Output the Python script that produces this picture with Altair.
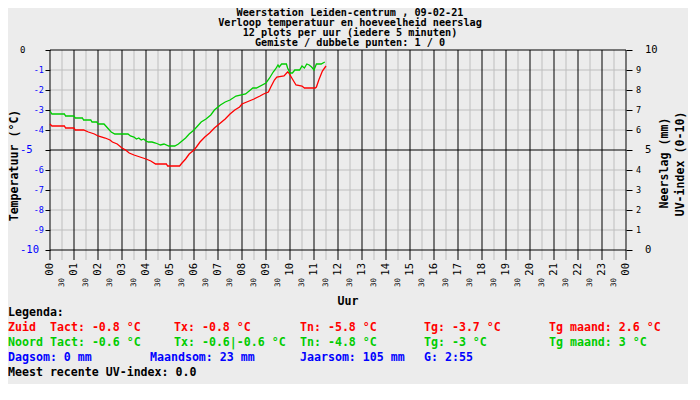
import altair as alt
import pandas as pd

FONT = "DejaVu Sans Mono"
RED = "#ff0000"
GREEN = "#00cc00"
BLUE = "#0000ff"
BG = "#ececec"
GRID = "#bebebe"

# ---------------- data ----------------
title_lines = [
    "Weerstation Leiden-centrum , 09-02-21",
    "Verloop temperatuur en hoeveelheid neerslag",
    "12 plots per uur (iedere 5 minuten)",
    "Gemiste / dubbele punten: 1 / 0",
]

hours = list(range(25))
hour_labels = ["00", "01", "02", "03", "04", "05", "06", "07", "08", "09", "10", "11",
               "12", "13", "14", "15", "16", "17", "18", "19", "20", "21", "22", "23", "00"]
half_hours = [h + 0.5 for h in range(24)]
half_label = "30"

temp_ticks = list(range(-10, 1))
temp_small = [-1, -2, -3, -4, -6, -7, -8, -9]
temp_large = [-5, -10]
temp_zero = [0]
rain_ticks = list(range(0, 11))
rain_small = [1, 2, 3, 4, 6, 7, 8, 9]
rain_large = [0, 5, 10]

# Noord (green)
noord_h = [0.0, 0.08, 0.6, 0.65, 1.0, 1.05, 1.35, 1.4, 1.7, 1.75, 1.95, 2.0, 2.25, 2.4,
           2.55, 2.7, 3.25, 3.35, 3.5, 3.6, 3.7, 3.8, 3.9, 4.0, 4.1, 4.25, 4.4, 4.5, 4.6,
           4.75, 4.95, 5.2, 5.35, 5.5, 5.65, 5.8, 6.0, 6.15, 6.3, 6.5, 6.7, 6.85, 7.1,
           7.3, 7.5, 7.75, 8.15, 8.3, 8.45, 8.6, 9.0, 9.15, 9.3, 9.4, 9.5, 9.55, 9.65,
           9.85, 9.9, 10.0, 10.1, 10.2, 10.4, 10.5, 10.6, 10.7, 10.8, 10.9, 11.0, 11.1,
           11.3, 11.45]
noord_t = [-3.05, -3.2, -3.2, -3.3, -3.3, -3.4, -3.4, -3.5, -3.5, -3.6, -3.6, -3.7, -3.7, -3.9,
           -4.1, -4.2, -4.2, -4.3, -4.35, -4.45, -4.4, -4.5, -4.45, -4.55, -4.6, -4.6, -4.65, -4.7, -4.75,
           -4.7, -4.8, -4.8, -4.7, -4.55, -4.4, -4.2, -4.0, -3.8, -3.6, -3.45, -3.25, -3.0, -2.75,
           -2.6, -2.5, -2.3, -2.2, -2.05, -1.9, -1.9, -1.65, -1.4, -1.1, -0.95, -0.75, -0.85, -0.7,
           -0.7, -0.9, -1.15, -1.15, -1.0, -1.0, -0.8, -0.9, -0.7, -0.75, -0.85, -1.0, -0.7,
           -0.7, -0.6]

# Zuid (red)
zuid_h = [0.0, 0.08, 0.6, 0.65, 1.0, 1.05, 1.4, 1.6, 1.85, 2.0, 2.3, 2.5, 2.6, 2.8, 3.0,
          3.15, 3.3, 3.5, 3.75, 4.0, 4.2, 4.4, 4.85, 4.9, 5.4, 5.5, 5.65, 5.8, 6.0, 6.1,
          6.25, 6.45, 6.65, 6.85, 7.1, 7.3, 7.5, 7.7, 7.9, 8.0, 8.3, 8.5, 8.75, 8.9, 9.1,
          9.2, 9.35, 9.45, 9.75, 9.9, 9.95, 10.1, 10.25, 10.5, 10.6, 11.05, 11.1, 11.2,
          11.35, 11.5]
zuid_t = [-3.7, -3.8, -3.8, -3.9, -3.9, -4.0, -4.0, -4.1, -4.2, -4.3, -4.4, -4.5, -4.6, -4.7, -4.9,
          -5.0, -5.15, -5.25, -5.35, -5.45, -5.55, -5.7, -5.7, -5.8, -5.8, -5.65, -5.45, -5.2, -5.0, -4.85,
          -4.6, -4.35, -4.15, -3.9, -3.65, -3.45, -3.2, -3.0, -2.85, -2.7, -2.55, -2.45, -2.3, -2.2, -2.1,
          -1.85, -1.5, -1.35, -1.3, -1.1, -1.15, -1.45, -1.75, -1.8, -1.9, -1.9, -1.85, -1.5,
          -1.05, -0.8]

legend_head = "Legenda:"
legend_zuid = ["Zuid", "Tact: -0.8 °C", "Tx: -0.8 °C", "Tn: -5.8 °C", "Tg: -3.7 °C", "Tg maand: 2.6 °C"]
legend_noord = ["Noord", "Tact: -0.6 °C", "Tx: -0.6|-0.6 °C", "Tn: -4.8 °C", "Tg: -3 °C", "Tg maand: 3 °C"]
legend_regen = ["Dagsom: 0 mm", "Maandsom: 23 mm", "Jaarsom: 105 mm", "G: 2:55"]
legend_uv = "Meest recente UV-index: 0.0"

y_title = "Temperatuur (°C)"
x_title = "Uur"
right_titles = ["Neerslag (mm)", "UV-index (0-10)"]

# ---------------- layout ----------------
W, H = 576, 200
col_x = [-42, 0, 124, 250, 374, 499]
regen_x = [-42, 100, 250, 374]
row_y = [263, 278, 293, 308, 323]
title_y = [-37, -27, -17, -7]

xs = alt.Scale(domain=[0, 24], nice=False, zero=False)
ts = alt.Scale(domain=[-10, 0], nice=False, zero=False)
rs = alt.Scale(domain=[0, 10], nice=False, zero=False)

X = alt.X("h:Q", scale=xs, axis=None)


def text_at(s, x, y, color="black", size=11.6, weight="bold", **kw):
    return alt.Chart(pd.DataFrame({"t": [s]})).mark_text(
        font=FONT, fontSize=size, fontWeight=weight, color=color,
        baseline="middle", **kw
    ).encode(x=alt.value(x), y=alt.value(y), text="t:N")


layers = []

# grid
layers.append(alt.Chart(pd.DataFrame({"v": rain_small})).mark_rule(color=GRID, strokeWidth=1).encode(
    y=alt.Y("v:Q", scale=rs, axis=None), x=alt.value(0), x2=alt.value(W)))
layers.append(alt.Chart(pd.DataFrame({"h": half_hours})).mark_rule(color=GRID, strokeWidth=1).encode(
    x=X, y=alt.value(0), y2=alt.value(210)))
layers.append(alt.Chart(pd.DataFrame({"v": rain_large})).mark_rule(color="black", strokeWidth=1).encode(
    y=alt.Y("v:Q", scale=rs, axis=alt.Axis(orient="right", values=rain_ticks, labels=False, ticks=True,
                                          tickSize=6, tickColor="black", tickWidth=1, domain=False,
                                          grid=False, title=None)),
    x=alt.value(0), x2=alt.value(W)))
layers.append(alt.Chart(pd.DataFrame({"h": hours})).mark_rule(color="black", strokeWidth=1).encode(
    x=X, y=alt.value(0), y2=alt.value(210)))

# lines
df = pd.concat([
    pd.DataFrame({"h": zuid_h, "temp": zuid_t, "station": "Zuid"}),
    pd.DataFrame({"h": noord_h, "temp": noord_t, "station": "Noord"}),
])
layers.append(alt.Chart(df).mark_line(strokeWidth=1.3, interpolate="linear").encode(
    x=X,
    y=alt.Y("temp:Q", scale=ts, axis=alt.Axis(
        orient="left", values=temp_ticks, labels=False, ticks=True, tickSize=5, tickColor="black",
        tickWidth=1, domain=False, grid=False, title=y_title, titleFont=FONT, titleFontSize=11.6,
        titleFontWeight="bold", titleColor="black", titleAngle=270, titleX=-36, titleY=115,
        titleAlign="center", titleBaseline="middle")),
    color=alt.Color("station:N", scale=alt.Scale(domain=["Zuid", "Noord"], range=[RED, GREEN]), legend=None),
    detail="station:N",
))

# x tick labels
layers.append(alt.Chart(pd.DataFrame({"h": hours, "t": hour_labels})).mark_text(
    font=FONT, fontSize=10.5, angle=270, align="right", baseline="middle", color="black").encode(
    x=X, y=alt.value(213), text="t:N"))
layers.append(alt.Chart(pd.DataFrame({"h": half_hours, "t": [half_label] * len(half_hours)})).mark_text(
    font=FONT, fontSize=7.5, angle=270, align="right", baseline="middle", color="black").encode(
    x=X, y=alt.value(228), text="t:N"))

# y tick labels (left)
layers.append(alt.Chart(pd.DataFrame({"v": temp_small, "t": [str(v) for v in temp_small]})).mark_text(
    font=FONT, fontSize=8.5, align="right", baseline="middle", color=BLUE).encode(
    y=alt.Y("v:Q", scale=ts, axis=None), x=alt.value(-6), text="t:N"))
layers.append(alt.Chart(pd.DataFrame({"v": temp_large, "t": [str(v) for v in temp_large]})).mark_text(
    font=FONT, fontSize=10.5, align="left", baseline="middle", color=BLUE).encode(
    y=alt.Y("v:Q", scale=ts, axis=None), x=alt.value(-30), text="t:N"))
layers.append(alt.Chart(pd.DataFrame({"v": temp_zero, "t": [str(v) for v in temp_zero]})).mark_text(
    font=FONT, fontSize=9, align="left", baseline="middle", color="black").encode(
    y=alt.Y("v:Q", scale=ts, axis=None), x=alt.value(-30), text="t:N"))

# y tick labels (right)
layers.append(alt.Chart(pd.DataFrame({"v": rain_small, "t": [str(v) for v in rain_small]})).mark_text(
    font=FONT, fontSize=8.5, align="left", baseline="middle", color="black").encode(
    y=alt.Y("v:Q", scale=rs, axis=None), x=alt.value(586), text="t:N"))
layers.append(alt.Chart(pd.DataFrame({"v": rain_large, "t": [str(v) for v in rain_large]})).mark_text(
    font=FONT, fontSize=10.5, align="left", baseline="middle", color="black").encode(
    y=alt.Y("v:Q", scale=rs, axis=None), x=alt.value(595), text="t:N"))

# right titles
layers.append(text_at(right_titles[0], 615, 113, angle=270, align="center"))
layers.append(text_at(right_titles[1], 631, 114, angle=270, align="center"))

# x title
layers.append(text_at(x_title, 298, 252, align="center"))

# chart title
for line, ty in zip(title_lines, title_y):
    layers.append(text_at(line, 300, ty, size=10.2, align="center"))

# legend
layers.append(text_at(legend_head, col_x[0], row_y[0], align="left"))
for s, x in zip(legend_zuid, col_x):
    layers.append(text_at(s, x, row_y[1], color=RED, align="left"))
for s, x in zip(legend_noord, col_x):
    layers.append(text_at(s, x, row_y[2], color=GREEN, align="left"))
for s, x in zip(legend_regen, regen_x):
    layers.append(text_at(s, x, row_y[3], color=BLUE, align="left"))
layers.append(text_at(legend_uv, col_x[0], row_y[4], align="left"))

chart = alt.layer(*layers).resolve_scale(y="independent").properties(
    width=W, height=H,
    autosize=alt.AutoSizeParams(type="none"),
    padding={"left": 42, "top": 42, "right": 62, "bottom": 134},
    background=BG,
).configure_view(stroke=None)

chart.save("out.html", embed_options={"renderer": "svg", "actions": False})
